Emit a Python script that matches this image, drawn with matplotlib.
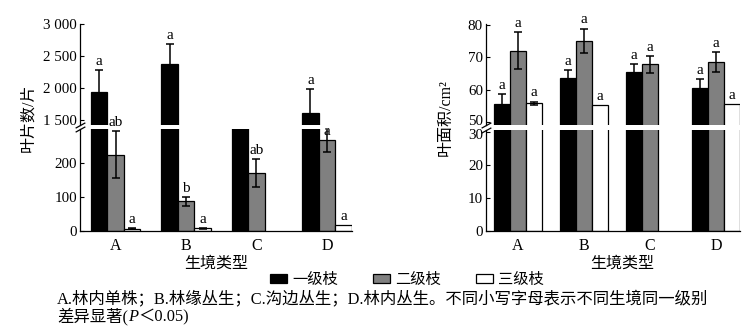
import numpy as np
import matplotlib
matplotlib.use("Agg")
import matplotlib.pyplot as plt
from matplotlib.patches import Patch
from matplotlib.transforms import ScaledTranslation

plt.rcParams['font.family'] = ['Liberation Serif', 'Noto Sans CJK SC']
plt.rcParams['axes.unicode_minus'] = False

# ---- data -------------------------------------------------------------
habitats = ['A', 'B', 'C', 'D']
series_names = ['一级枝', '二级枝', '三级枝']
series_colors = ['#000000', '#808080', '#ffffff']

# leaf number per branch (片)
leaf_count_1 = [1933, 2381, 1200, 1605]
leaf_count_1_err = [345, 313, np.nan, 375]
leaf_count_2 = [224, 87, 171, 268]
leaf_count_2_err = [69, 13, 41, 36]
leaf_count_3 = [6, 8, np.nan, 18]
leaf_count_3_err = [1.5, 2, np.nan, 0]
leaf_count_letters_1 = ['a', 'a', '', 'a']
leaf_count_letters_2 = ['ab', 'b', 'ab', 'a']
leaf_count_letters_3 = ['a', 'a', '', 'a']

# leaf area (cm2)
leaf_area_1 = [55.5, 63.5, 65.4, 60.6]
leaf_area_1_err = [3.1, 2.5, 2.4, 2.6]
leaf_area_2 = [72.0, 75.0, 67.8, 68.6]
leaf_area_2_err = [5.7, 3.8, 2.6, 3.0]
leaf_area_3 = [55.8, 55.2, np.nan, 55.5]
leaf_area_3_err = [0.6, 0, np.nan, 0]
leaf_area_letters_1 = ['a', 'a', 'a', 'a']
leaf_area_letters_2 = ['a', 'a', 'a', 'a']
leaf_area_letters_3 = ['a', 'a', '', 'a']

count_ticks_low = [0, 100, 200]
count_ticks_high = [1500, 2000, 2500, 3000]
area_ticks_low = [0, 10, 20, 30]
area_ticks_high = [50, 60, 70, 80]

# ---- layout helpers -----------------------------------------------------
W_PX, H_PX = 754, 335
fig = plt.figure(figsize=(W_PX / 100, H_PX / 100), dpi=100)


def fx(x):
    return x / W_PX


def fy(y):
    return 1 - y / H_PX


def box(x0, x1, y_top, y_bot):
    return [fx(x0), fy(y_bot), fx(x1) - fx(x0), (y_bot - y_top) / H_PX]


def thousands(v):
    return f"{v:,}".replace(",", " ")


def broken_bar_panel(ax_top, ax_bot, series, errs, letters, width,
                     xlim, low_lim, high_lim, low_ticks, high_ticks, fmt):
    x = np.arange(len(habitats))
    offsets = [-width, 0, width]
    for ax in (ax_top, ax_bot):
        for vals, err, col, off in zip(series, errs, series_colors, offsets):
            v = np.asarray(vals, float)
            e = np.asarray(err, float)
            ok = np.isfinite(v)
            ax.bar(x[ok] + off, v[ok], width=width, color=col,
                   edgecolor='black', linewidth=0.9, zorder=2)
            ke = ok & np.isfinite(e) & (e > 0)
            ax.errorbar(x[ke] + off, v[ke], yerr=e[ke], fmt='none',
                        ecolor='black', elinewidth=1.1, capsize=2.6,
                        capthick=1.1, zorder=3)
        ax.set_xlim(*xlim)
        for s in ('top', 'right'):
            ax.spines[s].set_visible(False)
        ax.spines['left'].set_linewidth(0.9)
        ax.tick_params(axis='y', direction='in', length=3, width=0.8,
                       labelsize=10.8, pad=2)
    ax_top.set_ylim(*high_lim)
    ax_bot.set_ylim(*low_lim)
    ax_top.spines['bottom'].set_visible(False)
    ax_top.set_xticks([])
    ax_top.set_yticks(high_ticks)
    ax_top.set_yticklabels([fmt(t) for t in high_ticks])
    ax_bot.set_yticks(low_ticks)
    ax_bot.set_yticklabels([fmt(t) for t in low_ticks])
    ax_bot.spines['bottom'].set_linewidth(0.9)
    ax_bot.set_xticks(x)
    ax_bot.set_xticklabels(habitats, fontsize=11.5)
    ax_bot.tick_params(axis='x', length=0, pad=5)

    # significance letters above each bar
    for vals, err, labs, off in zip(series, errs, letters, offsets):
        for i, (v, e, lab) in enumerate(zip(vals, err, labs)):
            if not lab or not np.isfinite(v):
                continue
            top = v + (e if np.isfinite(e) else 0)
            if top <= low_lim[1]:
                ax, yv = ax_bot, top
            elif top >= high_lim[0]:
                ax, yv = ax_top, top
            else:
                ax, yv = ax_bot, min(v, low_lim[1])
            ax.annotate(lab, (x[i] + off, yv), xytext=(0, 1.5),
                        textcoords='offset points', ha='center',
                        va='bottom', fontsize=11, annotation_clip=False)

    # axis-break marks on the left spine
    mk = dict(marker=[(-1, -0.55), (1, 0.55)], markersize=7, linestyle='none',
              color='black', mec='black', mew=0.9, clip_on=False)
    ax_top.plot([0], [0], transform=ax_top.transAxes, **mk)
    ax_bot.plot([0], [1], transform=ax_bot.transAxes, **mk)


def nudge_tick_label(ax, index, dy_px):
    lbl = ax.yaxis.get_major_ticks()[index].label1
    lbl.set_transform(lbl.get_transform()
                      + ScaledTranslation(0, dy_px / 100, fig.dpi_scale_trans))


# ---- leaf number ---------------------------------------------------------
ax_l_top = fig.add_axes(box(80, 352, 24, 125))
ax_l_bot = fig.add_axes(box(80, 352, 129.3, 231))
broken_bar_panel(
    ax_l_top, ax_l_bot,
    [leaf_count_1, leaf_count_2, leaf_count_3],
    [leaf_count_1_err, leaf_count_2_err, leaf_count_3_err],
    [leaf_count_letters_1, leaf_count_letters_2, leaf_count_letters_3],
    width=0.234, xlim=(-0.504, 3.355),
    low_lim=(0, 299), high_lim=(1422, 3000),
    low_ticks=count_ticks_low, high_ticks=count_ticks_high, fmt=thousands)

# ---- leaf area -------------------------------------------------------------
ax_r_top = fig.add_axes(box(485.7, 740, 24, 125))
ax_r_bot = fig.add_axes(box(485.7, 740, 130, 231))
broken_bar_panel(
    ax_r_top, ax_r_bot,
    [leaf_area_1, leaf_area_2, leaf_area_3],
    [leaf_area_1_err, leaf_area_2_err, leaf_area_3_err],
    [leaf_area_letters_1, leaf_area_letters_2, leaf_area_letters_3],
    width=0.242, xlim=(-0.486, 3.36),
    low_lim=(0, 30.5), high_lim=(49.2, 80.2),
    low_ticks=area_ticks_low, high_ticks=area_ticks_high, fmt=str)
# keep the "50" and "30" labels at the break apart
nudge_tick_label(ax_r_top, 0, 2.0)
nudge_tick_label(ax_r_bot, 3, -2.5)

# ---- axis titles -------------------------------------------------------------
fig.text(fx(28), fy(118), '叶片数/片', rotation=90, ha='center', va='center',
         fontsize=11.5)
fig.text(fx(446), fy(118), '叶面积/cm²', rotation=90, ha='center',
         va='center', fontsize=11.5)
fig.text(fx(216), fy(263.5), '生境类型', ha='center', va='center',
         fontsize=11.5)
fig.text(fx(622), fy(263.5), '生境类型', ha='center', va='center',
         fontsize=11.5)

# ---- legend -------------------------------------------------------------------
handles = [Patch(facecolor=c, edgecolor='black', linewidth=0.9)
           for c in series_colors]
fig.legend(handles, series_names, loc='center', ncol=3, frameon=False,
           bbox_to_anchor=(fx(407), fy(280)), fontsize=11,
           handlelength=1.1, handleheight=0.45, handletextpad=0.35,
           columnspacing=2.3, borderaxespad=0)

# ---- caption ------------------------------------------------------------------
cap_size = 11.8
fig.text(fx(57), fy(299),
         'A.林内单株；B.林缘丛生；C.沟边丛生；D.林内丛生。'
         '不同小写字母表示不同生境同一级别',
         ha='left', va='center', fontsize=cap_size)
t1 = fig.text(fx(57), fy(316.5), '差异显著(', ha='left', va='center',
              fontsize=cap_size)
t2 = ax_l_bot.annotate('P', xy=(1, 0), xycoords=t1, ha='left', va='bottom',
                       fontsize=cap_size, style='italic',
                       annotation_clip=False)
ax_l_bot.annotate('＜0.05)', xy=(1, 0), xycoords=t2, ha='left', va='bottom',
                  fontsize=cap_size, annotation_clip=False)

fig.savefig('out.png', dpi=100)
